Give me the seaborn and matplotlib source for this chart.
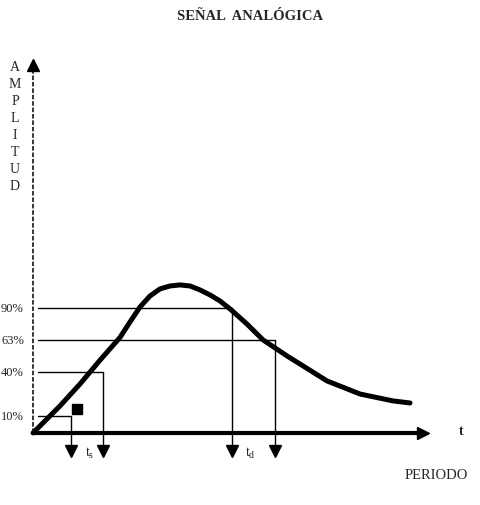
import matplotlib
matplotlib.use("Agg")
import matplotlib.pyplot as plt
import seaborn as sns
import pandas as pd

# curva de la señal (t, amplitud en % del pico)
t_vals = [0, 0.675, 1.175, 1.675, 2.175, 2.425, 2.675, 2.925, 3.175, 3.425, 3.675,
          3.925, 4.175, 4.425, 4.675, 4.925, 5.35, 5.75, 6.35, 6.675, 7.35, 8.175,
          9.0, 9.425]
amp_vals = [0, 18.4, 33.3, 49.5, 65.0, 75.5, 85.7, 93.2, 98.0, 100.0, 100.7,
            100.0, 97.3, 93.9, 89.8, 84.4, 74.1, 63.3, 52.4, 46.9, 35.4, 26.5,
            21.8, 20.4]

# niveles marcados y donde terminan sus lineas
level_labels = ["90%", "63%", "40%", "10%"]
level_amp = [85, 63.3, 41.5, 11.6]
level_t_end = [4.975, 6.05, 1.75, 0.95]

# tiempos marcados bajo el eje
mark_labels = [r"t$_\mathrm{s}$", r"t$_\mathrm{d}$"]
mark_t = [1.3, 5.3]

y_letters = list("AMPLITUD")

sns.set_theme(style="white")
plt.rcParams["font.family"] = ["Liberation Serif", "DejaVu Serif"]
plt.rcParams["mathtext.fontset"] = "custom"
plt.rcParams["mathtext.rm"] = "Liberation Serif"

fig = plt.figure(figsize=(4.81, 5.06), dpi=100)
ax = fig.add_axes([0, 0, 1, 1])
ax.set_xlim(-0.825, 11.2)
ax.set_ylim(-49.0, 295.2)
ax.axis("off")

df = pd.DataFrame({"t": t_vals, "amp": amp_vals})
sns.lineplot(data=df, x="t", y="amp", sort=False, color="black", lw=3.6,
             solid_joinstyle="round", solid_capstyle="round", ax=ax)

# ejes
ax.plot([0, 9.6], [0, 0], color="black", lw=3, solid_capstyle="butt")
ax.plot([9.75], [0], marker=">", color="black", ms=9)
ax.plot([0, 0], [0, 248], color="black", lw=1.1, ls=(0, (3, 1.2)))
ax.plot([0], [250], marker="^", color="black", ms=8)

# lineas de nivel y flechas
for lab, a, te in zip(level_labels, level_amp, level_t_end):
    ax.plot([0.125, te], [a, a], color="black", lw=1)
    ax.plot([te, te], [a, -9], color="black", lw=1)
    ax.plot([te], [-12.5], marker="v", color="black", ms=9)
    ax.text(-0.8, a, lab, ha="left", va="center", fontsize=9)

ax.plot([1.09], [16], marker="s", color="black", ms=6.5)

for lab, tm in zip(mark_labels, mark_t):
    ax.text(tm, -13, lab, ha="left", va="center", fontsize=10)

# etiqueta vertical del eje y
for i, ch in enumerate(y_letters):
    ax.text(-0.45, 249 - i * 11.5, ch, ha="center", va="center", fontsize=10)

ax.text(10.7, 2, "t", ha="center", va="center", fontsize=10, fontweight="bold")
ax.text(10.08, -28, "PERIODO", ha="center", va="center", fontsize=10.5)

fig.text(0.52, 1 - 16 / 506, "SEÑAL  ANALÓGICA", ha="center", va="center",
         fontsize=10.5, fontweight="bold")

fig.savefig("out.png", dpi=100, facecolor="white")
